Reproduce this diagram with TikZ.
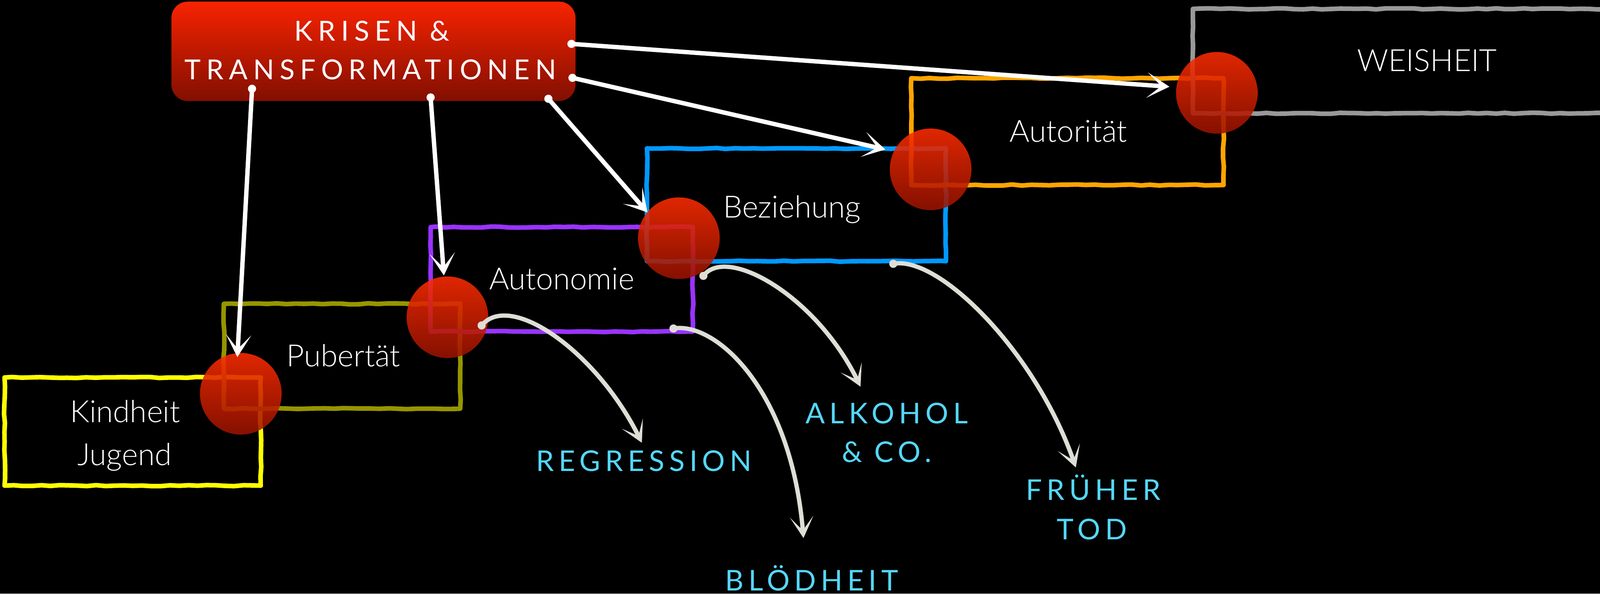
\documentclass[tikz,border=0pt]{standalone}
\usepackage{fontspec}
\setmainfont{Lato}
\newfontfamily\lightfont{Lato Light}
\newfontfamily\spacedfont{Lato}[LetterSpace=16.5]
\newfontfamily\krisenfont{Lato}[LetterSpace=20]
\usetikzlibrary{arrows.meta,decorations.pathmorphing}
\definecolor{kyellow}{HTML}{FFFF00}
\definecolor{kolive}{HTML}{969600}
\definecolor{kpurple}{HTML}{9933FF}
\definecolor{kblue}{HTML}{0099FF}
\definecolor{korange}{HTML}{FFA500}
\definecolor{kgrey}{HTML}{999999}
\definecolor{redtop}{HTML}{FF2C00}
\definecolor{redbot}{HTML}{981300}
\definecolor{krtop}{HTML}{F82300}
\definecolor{krbot}{HTML}{820F00}
\definecolor{curvegrey}{HTML}{DEDED6}
\definecolor{labcyan}{HTML}{55D7FA}
\begin{document}
\begin{tikzpicture}[x=1pt,y=-1pt,
  stagebox/.style={draw, line width=4.5pt, line join=round, inner sep=0,
    decorate, decoration={random steps, segment length=9pt, amplitude=0.55pt}},
  crisis/.style={circle, inner sep=0, minimum size=80pt, top color=redtop,
    bottom color=redbot, fill opacity=0.88, draw=none},
  krisenbox/.style={rectangle, rounded corners=16pt, inner sep=0,
    top color=krtop, bottom color=krbot, draw=none},
  warrow/.style={draw=white, line width=4.3pt, line cap=round,
    -{Stealth[length=22pt,width=25pt,inset=14pt]}},
  garrow/.style={draw=curvegrey, line width=4.2pt, line cap=round,
    -{Stealth[length=21pt,width=23pt,inset=13.5pt]}},
  boxlabel/.style={anchor=base, inner sep=0, text=white,
    font=\lightfont\fontsize{30pt}{36pt}\selectfont},
  outlabel/.style={anchor=base, inner sep=0, text=labcyan,
    font=\spacedfont\fontsize{28pt}{34pt}\selectfont},
  krisenlabel/.style={anchor=base, inner sep=0, text=white,
    font=\krisenfont\fontsize{27pt}{32pt}\selectfont}
]
\fill[black] (0,0) rectangle (1568,582);
\useasboundingbox (0,0) rectangle (1568,582);
\clip (0,0) rectangle (1568,582);

% stage boxes
\node[stagebox, draw=kyellow, minimum width=251pt, minimum height=106pt] (kb) at (130,423) {};
\node[stagebox, draw=kolive, minimum width=231.6pt, minimum height=102.8pt] (pb) at (335.2,349.2) {};
\node[stagebox, draw=kpurple, minimum width=257pt, minimum height=102.4pt] (ab) at (550.5,273.8) {};
\node[stagebox, draw=kblue, minimum width=293pt, minimum height=110.5pt] (bb) at (780.5,200.75) {};
\node[stagebox, draw=korange, minimum width=306pt, minimum height=104.7pt] (ob) at (1046,129) {};
\node[stagebox, draw=kgrey, minimum width=531pt, minimum height=102.3pt] (wb) at (1434.5,59.85) {};

% crisis circles
\node[crisis] (e1) at (236,386) {};
\node[crisis] (e2) at (438.5,311) {};
\node[crisis] (e3) at (665.3,233.5) {};
\node[crisis] (e4) at (912,166) {};
\node[crisis] (e5) at (1192.5,91) {};

% Krisen box
\node[krisenbox, minimum width=396pt, minimum height=97.4pt] (kr) at (366,50.3) {};
\node[krisenlabel] (kr1) at (364.5,40) {KRISEN \&};
\node[krisenlabel] (kr2) at (363,78) {TRANSFORMATIONEN};

% arrow anchor points
\coordinate (k1) at (247,87);     \coordinate (t1) at (232.6,350);
\coordinate (k2) at (422,95.5);   \coordinate (t2) at (435,270);
\coordinate (k3) at (537.4,96.8); \coordinate (t3) at (634.5,208.2);
\coordinate (k4) at (561,76.3);   \coordinate (t4) at (867.6,146.5);
\coordinate (k5) at (560,43);     \coordinate (t5) at (1146,85);

\foreach \s in {k1,k2,k3,k4,k5} \fill[white] (\s) circle (4pt);
\draw[warrow] (k1) -- (t1);
\draw[warrow] (k2) -- (t2);
\draw[warrow] (k3) -- (t3);
\draw[warrow] (k4) -- (t4);
\draw[warrow] (k5) -- (t5);

% outcome curves
\coordinate (g1s) at (472,319);     \coordinate (g1t) at (629,434);
\coordinate (g2s) at (660,322);     \coordinate (g2t) at (787.4,527.4);
\coordinate (g3s) at (689.3,270.4); \coordinate (g3t) at (843.3,379);
\coordinate (g4s) at (875.4,258.6); \coordinate (g4t) at (1054.3,458.2);
\foreach \s in {g1s,g2s,g3s,g4s} \fill[curvegrey] (\s) circle (4pt);
\draw[garrow] (g1s) .. controls (500,285) and (585,345) .. (g1t);
\draw[garrow] (g2s) .. controls (700,315) and (775,380) .. (g2t);
\draw[garrow] (g3s) .. controls (712,240) and (800,290) .. (g3t);
\draw[garrow] (g4s) .. controls (920,250) and (1015,345) .. (g4t);

% stage labels
\node[boxlabel] (lkind) at (122.6,414) {Kindheit};
\node[boxlabel] (ljug) at (122,456) {Jugend};
\node[boxlabel] (lpub) at (336.5,359.3) {Pubertät};
\node[boxlabel] (laut) at (550.5,284) {Autonomie};
\node[boxlabel] (lbez) at (776,213.4) {Beziehung};
\node[boxlabel] (lato) at (1047,139) {Autorität};
\node[boxlabel] (lwei) at (1398.5,70) {WEISHEIT};

% outcome labels
\node[outlabel] (oreg) at (631,462) {REGRESSION};
\node[outlabel] (oalk) at (869,415) {ALKOHOL};
\node[outlabel] (oco) at (869,453) {\& CO.};
\node[outlabel] (ofr) at (1071.5,490) {FRÜHER};
\node[outlabel] (otod) at (1070,528.7) {TOD};
\node[outlabel] (oblo) at (795.5,579) {BLÖDHEIT};
\end{tikzpicture}
\end{document}
